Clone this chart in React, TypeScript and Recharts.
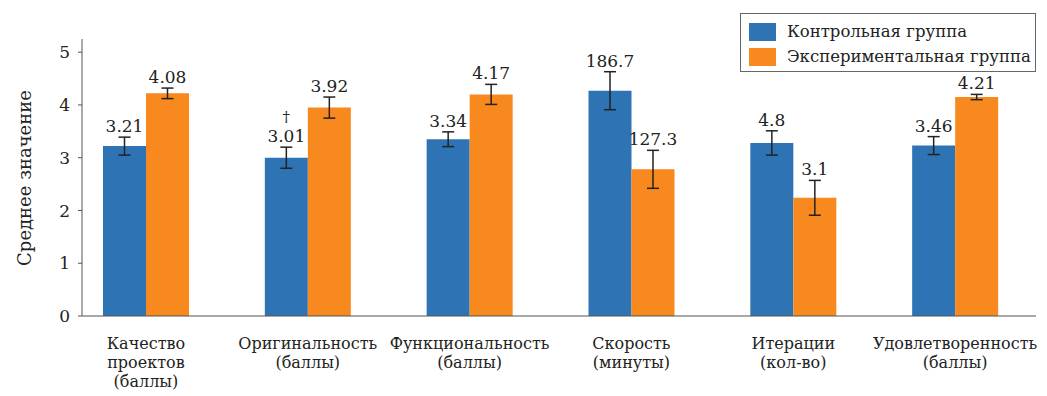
import { BarChart, Bar, XAxis, YAxis, ErrorBar, LabelList } from 'recharts';

const categories = [
  'Качество\nпроектов\n(баллы)',
  'Оригинальность\n(баллы)',
  'Функциональность\n(баллы)',
  'Скорость\n(минуты)',
  'Итерации\n(кол-во)',
  'Удовлетворенность\n(баллы)',
];
const controlMeans = [3.22, 3.0, 3.35, 4.27, 3.28, 3.23];
const experimentalMeans = [4.22, 3.95, 4.2, 2.78, 2.24, 4.15];
const controlErrors = [0.17, 0.2, 0.14, 0.36, 0.23, 0.17];
const experimentalErrors = [0.1, 0.2, 0.19, 0.36, 0.33, 0.05];
const controlLabels = ['3.21', '3.01', '3.34', '186.7', '4.8', '3.46'];
const experimentalLabels = ['4.08', '3.92', '4.17', '127.3', '3.1', '4.21'];
const yTicks = [0, 1, 2, 3, 4, 5];

const BLUE = '#2e74b5';
const ORANGE = '#f7891f';
const FONT = 'DejaVu Serif';

const data = categories.map((name, i) => ({
  name,
  control: controlMeans[i],
  experimental: experimentalMeans[i],
  controlErr: controlErrors[i],
  experimentalErr: experimentalErrors[i],
  controlLabel: controlLabels[i],
  experimentalLabel: experimentalLabels[i],
}));

// label sits just above the top of the error bar
const makeValueLabel = (meanKey: 'control' | 'experimental', errKey: 'controlErr' | 'experimentalErr') =>
  (props: any) => {
    const { x, y, width, height, value, index } = props;
    const row = data[index];
    const pxPerUnit = Number(height) / row[meanKey];
    const top = Number(y) - row[errKey] * pxPerUnit;
    const cx = Number(x) + Number(width) / 2;
    return (
      <g>
        {meanKey === 'control' && index === 1 && (
          <text x={cx} y={top - 25} textAnchor="middle" fontSize={15} fill="#222" fontFamily={FONT}>†</text>
        )}
        <text x={cx} y={top - 5} textAnchor="middle" fontSize={17} fill="#222" fontFamily={FONT}>
          {value}
        </text>
      </g>
    );
  };

const CategoryTick = ({ x, y, payload }: any) => {
  const lines = String(payload.value).split('\n');
  return (
    <g transform={`translate(${x},${y})`}>
      {lines.map((line, i) => (
        <text key={i} x={0} y={25 + i * 19} textAnchor="middle" fontSize={16} fill="#222" fontFamily={FONT}>
          {line}
        </text>
      ))}
    </g>
  );
};

export default function App() {
  return (
    <div style={{ position: 'absolute', left: 0, top: 0, width: 1047, height: 396, background: '#fff' }}>
      <BarChart
        width={1047}
        height={396}
        data={data}
        margin={{ top: 39, right: 11, bottom: 20, left: 22 }}
        barGap={0}
        barSize={43}
      >
        <XAxis
          dataKey="name"
          height={60}
          tickLine={false}
          interval={0}
          padding={{ left: -17, right: 0 }}
          tick={<CategoryTick />}
          stroke="#555"
          axisLine={{ stroke: '#555', strokeWidth: 1.2 }}
        />
        <YAxis
          width={60}
          domain={[0, 5.25]}
          ticks={yTicks}
          allowDataOverflow
          tickSize={4}
          tickMargin={8}
          stroke="#555"
          tick={{ fontSize: 17, fill: '#222', fontFamily: FONT }}
          label={{
            value: 'Среднее значение',
            angle: -90,
            position: 'insideLeft',
            content: () => (
              <text
                x={24}
                y={178}
                transform="rotate(-90, 24, 178)"
                textAnchor="middle"
                dominantBaseline="central"
                fontSize={18}
                fill="#222"
                fontFamily={FONT}
              >
                Среднее значение
              </text>
            ),
          }}
        />
        <Bar dataKey="control" fill={BLUE} isAnimationActive={false}>
          <ErrorBar dataKey="controlErr" direction="y" width={6} stroke="#222" strokeWidth={1.5} />
          <LabelList dataKey="controlLabel" content={makeValueLabel('control', 'controlErr')} />
        </Bar>
        <Bar dataKey="experimental" fill={ORANGE} isAnimationActive={false}>
          <ErrorBar dataKey="experimentalErr" direction="y" width={6} stroke="#222" strokeWidth={1.5} />
          <LabelList dataKey="experimentalLabel" content={makeValueLabel('experimental', 'experimentalErr')} />
        </Bar>
      </BarChart>
      <div
        style={{
          position: 'absolute',
          left: 740,
          top: 13,
          width: 294,
          height: 57,
          border: '1px solid #666',
          background: '#fff',
          fontFamily: FONT,
          fontSize: 16.5,
          color: '#222',
        }}
      >
        {[
          { label: 'Контрольная группа', color: BLUE },
          { label: 'Экспериментальная группа', color: ORANGE },
        ].map((item, i) => (
          <div key={i} style={{ position: 'absolute', left: 8, top: 9 + i * 25, display: 'flex', alignItems: 'center' }}>
            <span style={{ display: 'inline-block', width: 27, height: 18, background: item.color }} />
            <span style={{ marginLeft: 11, lineHeight: '18px', whiteSpace: 'nowrap' }}>{item.label}</span>
          </div>
        ))}
      </div>
    </div>
  );
}
